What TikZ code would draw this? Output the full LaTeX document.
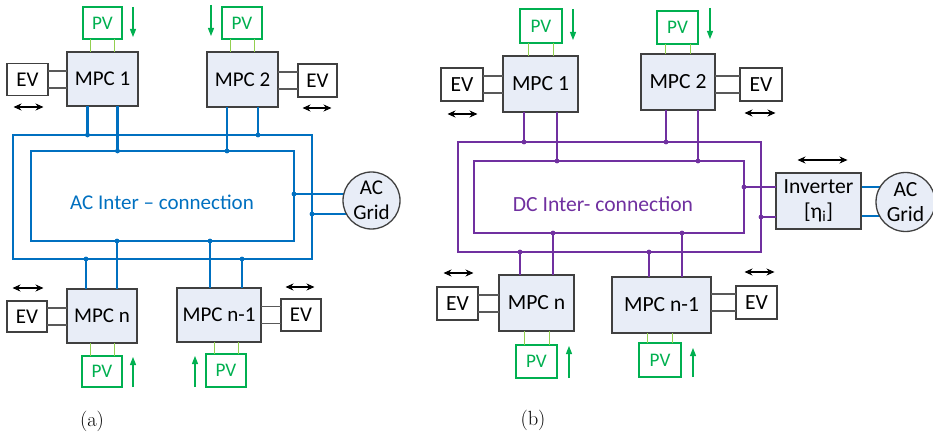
\documentclass[tikz,border=0pt]{standalone}
\usepackage{fontspec}
\newfontfamily\calfont{Carlito}
\usetikzlibrary{arrows.meta,backgrounds}
\definecolor{acblue}{HTML}{0070C0}
\definecolor{dcpurple}{HTML}{7030A0}
\definecolor{pvgreen}{HTML}{00B050}
\definecolor{pvline}{HTML}{92D050}
\definecolor{boxgray}{HTML}{404040}
\definecolor{evline}{HTML}{595959}
\definecolor{mpcfill}{RGB}{232,237,247}
\begin{document}
\begin{tikzpicture}[x=1pt,y=-1pt,
  txt/.style={font=\calfont\fontsize{21}{24.5}\selectfont},
  txtb/.style={font=\calfont\fontsize{21.6}{25}\selectfont},
  mpc/.style={txt,draw=boxgray,line width=1.3pt,fill=mpcfill,inner sep=0pt,outer sep=0pt},
  evbox/.style={txt,draw=boxgray,line width=1.3pt,fill=white,inner sep=0pt,outer sep=0pt,minimum width=41pt,minimum height=32pt},
  pvbox/.style={font=\calfont\fontsize{19.2}{22}\selectfont,text=pvgreen,draw=pvgreen,line width=1.1pt,fill=white,inner sep=0pt,outer sep=0pt,minimum width=40pt,minimum height=32pt},
  ring/.style={draw,inner sep=0pt,outer sep=0pt,line width=2.2pt},
  busA/.style={draw=acblue,line width=2.2pt},
  busB/.style={draw=dcpurple,line width=2.2pt},
  pvwire/.style={draw=pvline,line width=1pt},
  evwire/.style={draw=evline,line width=1.1pt},
  flow/.style={draw=pvgreen,line width=1.1pt,-{Triangle[length=8pt,width=6pt]}},
  both/.style={draw=black,line width=1.1pt,{Stealth[length=8pt,width=7pt]}-{Stealth[length=8pt,width=7pt]}},
  gridc/.style={txt,circle,draw=boxgray,line width=1.3pt,fill=mpcfill,inner sep=0pt,outer sep=0pt,minimum size=57pt,align=center}
]
\useasboundingbox (0,0) rectangle (933,438);

% ================= (a) =================
\node[ring,draw=acblue,minimum width=299pt,minimum height=124pt] (outerA) at (162.5,197) {};
\node[ring,draw=acblue,minimum width=263pt,minimum height=90pt] (innerA) at (162.5,196) {};
\node[txt,text=acblue] (txtA) at (162,202) {AC Inter – connection};

\node[mpc,minimum width=71pt,minimum height=54pt] (mpcA1) at (102.5,79) {MPC 1};
\node[mpc,minimum width=71pt,minimum height=55pt] (mpcA2) at (242.5,79.5) {MPC 2};
\node[mpc,minimum width=70pt,minimum height=54pt] (mpcAn) at (102,316) {MPC n};
\node[mpc,minimum width=84pt,minimum height=54pt] (mpcAm) at (219,315) {MPC n-1};

\node[evbox] (evA1) at (27.5,79.5) {EV};
\node[evbox,minimum width=39pt,minimum height=33pt] (evA2) at (317.5,80.5) {EV};
\node[evbox,minimum width=40pt,minimum height=31pt] (evAn) at (27,316.5) {EV};
\node[evbox,minimum width=40pt] (evAm) at (301,315) {EV};

\node[pvbox,minimum width=39pt] (pvA1) at (102.5,23) {PV};
\node[pvbox] (pvA2) at (242,23) {PV};
\node[pvbox,minimum height=31pt] (pvAn) at (102,371.5) {PV};
\node[pvbox,minimum height=33pt] (pvAm) at (226,370.5) {PV};

\node[gridc] (gridA) at (371.5,200.5) {AC\\Grid};

% bus lines (a)
\draw[busA] ([xshift=-15pt]mpcA1.south) -- ([xshift=-15pt]mpcA1.south |- outerA.north) coordinate (jA1);
\draw[busA] ([xshift=15pt]mpcA1.south) -- ([xshift=15pt]mpcA1.south |- innerA.north) coordinate (jA2);
\draw[busA] ([xshift=-15.5pt]mpcA2.south) -- ([xshift=-15.5pt]mpcA2.south |- innerA.north) coordinate (jA3);
\draw[busA] ([xshift=15.5pt]mpcA2.south) -- ([xshift=15.5pt]mpcA2.south |- outerA.north) coordinate (jA4);
\draw[busA] ([xshift=-16pt]mpcAn.north) -- ([xshift=-16pt]mpcAn.north |- outerA.south) coordinate (jA5);
\draw[busA] ([xshift=15pt]mpcAn.north) -- ([xshift=15pt]mpcAn.north |- innerA.south) coordinate (jA6);
\draw[busA] ([xshift=-9pt]mpcAm.north) -- ([xshift=-9pt]mpcAm.north |- innerA.south) coordinate (jA7);
\draw[busA] ([xshift=23pt]mpcAm.north) -- ([xshift=23pt]mpcAm.north |- outerA.south) coordinate (jA8);
\begin{scope}[on background layer]
\draw[busA] ([yshift=2pt]innerA.east) coordinate (jA9) -- ([yshift=2pt]innerA.east -| gridA.center);
\draw[busA] ([yshift=-17pt]outerA.east) coordinate (jA10) -- ([yshift=-17pt]outerA.east -| gridA.center);
\end{scope}
\foreach \j in {jA1,jA2,jA3,jA4,jA5,jA6,jA7,jA8,jA9,jA10} \fill[acblue] (\j) circle (2.4pt);

% EV wires (a)
\foreach \s in {8.5,-8.5} {
  \draw[evwire] ([yshift=\s pt]evA1.east) -- ([yshift=\s pt]evA1.east -| mpcA1.west);
  \draw[evwire] ([yshift=\s pt]evA2.west) -- ([yshift=\s pt]evA2.west -| mpcA2.east);
  \draw[evwire] ([yshift=\s pt]evAn.east) -- ([yshift=\s pt]evAn.east -| mpcAn.west);
  \draw[evwire] ([yshift=\s pt]evAm.west) -- ([yshift=\s pt]evAm.west -| mpcAm.east);
}
% PV wires (a)
\foreach \s in {12,-12} {
  \draw[pvwire] ([xshift=\s pt]pvA1.south) -- ([xshift=\s pt]pvA1.south |- mpcA1.north);
  \draw[pvwire] ([xshift=\s pt]pvA2.south) -- ([xshift=\s pt]pvA2.south |- mpcA2.north);
  \draw[pvwire] ([xshift=\s pt]pvAn.north) -- ([xshift=\s pt]pvAn.north |- mpcAn.south);
  \draw[pvwire] ([xshift=\s pt]pvAm.north) -- ([xshift=\s pt]pvAm.north |- mpcAm.south);
}
% arrows (a)
\draw[flow] (133,7) -- (133,37);
\draw[flow] (211,5) -- (211,36);
\draw[flow] (133,387) -- (133,357);
\draw[flow] (195,387) -- (195,356);
\draw[both] (13.5,107) -- (43.5,107);
\draw[both] (302.5,108) -- (331.5,108);
\draw[both] (12.5,288) -- (43.5,288);
\draw[both] (285.5,287) -- (314.5,287);

\node[font=\fontsize{20.5}{24}\selectfont] (labA) at (92,421) {(a)};

% ================= (b) =================
\node[ring,draw=dcpurple,minimum width=303pt,minimum height=110pt] (outerB) at (609.5,197) {};
\node[ring,draw=dcpurple,minimum width=270pt,minimum height=72pt] (innerB) at (609,197) {};
\node[txtb,text=dcpurple] (txtB) at (603,204) {DC Inter- connection};

\node[mpc,txtb,minimum width=75pt,minimum height=56pt] (mpcB1) at (540.5,84) {MPC 1};
\node[mpc,txtb,minimum width=74pt,minimum height=56pt] (mpcB2) at (678,82) {MPC 2};
\node[mpc,txtb,minimum width=75pt,minimum height=56pt] (mpcBn) at (536.5,303) {MPC n};
\node[mpc,txtb,minimum width=99pt,minimum height=56pt] (mpcBm) at (661.5,305) {MPC n-1};

\node[evbox,txtb,minimum width=42pt,minimum height=33pt] (evB1) at (462,84.5) {EV};
\node[evbox,txtb,minimum width=42pt,minimum height=33pt] (evB2) at (761,84.5) {EV};
\node[evbox,txtb,minimum height=33pt] (evBn) at (457.5,303.5) {EV};
\node[evbox,txtb,minimum height=33pt] (evBm) at (756.5,302.5) {EV};

\node[pvbox,minimum width=42pt,minimum height=34pt] (pvB1) at (541,26) {PV};
\node[pvbox,minimum width=41pt,minimum height=33pt] (pvB2) at (677.5,27.5) {PV};
\node[pvbox,minimum width=41pt,minimum height=33pt] (pvBn) at (536.5,361.5) {PV};
\node[pvbox,minimum width=42pt,minimum height=34pt] (pvBm) at (660,360) {PV};

\node[mpc,txtb,minimum width=85pt,minimum height=56pt,align=center] (inv) at (818.5,201) {Inverter\\{[}η\textsubscript{i}]};
\node[gridc,txtb,minimum size=59pt] (gridB) at (905.5,202) {AC\\Grid};

% bus lines (b)
\draw[busB] ([xshift=-16.5pt]mpcB1.south) -- ([xshift=-16.5pt]mpcB1.south |- outerB.north) coordinate (jB1);
\draw[busB] ([xshift=16.5pt]mpcB1.south) -- ([xshift=16.5pt]mpcB1.south |- innerB.north) coordinate (jB2);
\draw[busB] ([xshift=-12pt]mpcB2.south) -- ([xshift=-12pt]mpcB2.south |- outerB.north) coordinate (jB3);
\draw[busB] ([xshift=20pt]mpcB2.south) -- ([xshift=20pt]mpcB2.south |- innerB.north) coordinate (jB4);
\draw[busB] ([xshift=-16.5pt]mpcBn.north) -- ([xshift=-16.5pt]mpcBn.north |- outerB.south) coordinate (jB5);
\draw[busB] ([xshift=16.5pt]mpcBn.north) -- ([xshift=16.5pt]mpcBn.north |- innerB.south) coordinate (jB6);
\draw[busB] ([xshift=-12.5pt]mpcBm.north) -- ([xshift=-12.5pt]mpcBm.north |- outerB.south) coordinate (jB7);
\draw[busB] ([xshift=20.5pt]mpcBm.north) -- ([xshift=20.5pt]mpcBm.north |- innerB.south) coordinate (jB8);
\draw[busB] ([yshift=10pt]innerB.east) coordinate (jB9) -- ([yshift=10pt]innerB.east -| inv.west);
\draw[busB] ([yshift=-20pt]outerB.east) coordinate (jB10) -- ([yshift=-20pt]outerB.east -| inv.west);
\begin{scope}[on background layer]
\draw[busA] ([yshift=14pt]inv.east) -- ([yshift=14pt]inv.east -| gridB.center);
\draw[busA] ([yshift=-15pt]inv.east) -- ([yshift=-15pt]inv.east -| gridB.center);
\end{scope}
\foreach \j in {jB1,jB2,jB3,jB4,jB5,jB6,jB7,jB8,jB9,jB10} \fill[dcpurple] (\j) circle (2.4pt);

% EV wires (b)
\foreach \s in {8.5,-8.5} {
  \draw[evwire] ([yshift=\s pt]evB1.east) -- ([yshift=\s pt]evB1.east -| mpcB1.west);
  \draw[evwire] ([yshift=\s pt]evB2.west) -- ([yshift=\s pt]evB2.west -| mpcB2.east);
  \draw[evwire] ([yshift=\s pt]evBn.east) -- ([yshift=\s pt]evBn.east -| mpcBn.west);
  \draw[evwire] ([yshift=\s pt]evBm.west) -- ([yshift=\s pt]evBm.west -| mpcBm.east);
}
% PV wires (b)
\foreach \s in {12.5,-12.5} {
  \draw[pvwire] ([xshift=\s pt]pvB1.south) -- ([xshift=\s pt]pvB1.south |- mpcB1.north);
  \draw[pvwire] ([xshift=\s pt]pvB2.south) -- ([xshift=\s pt]pvB2.south |- mpcB2.north);
  \draw[pvwire] ([xshift=\s pt]pvBn.north) -- ([xshift=\s pt]pvBn.north |- mpcBn.south);
  \draw[pvwire] ([xshift=\s pt]pvBm.north) -- ([xshift=\s pt]pvBm.north |- mpcBm.south);
}
% arrows (b)
\draw[flow] (573,9) -- (573,40);
\draw[flow] (710,8) -- (710,39);
\draw[flow] (569,378) -- (569,346);
\draw[flow] (693,377) -- (693,348);
\draw[both] (447.5,114) -- (477.5,114);
\draw[both] (744.5,113) -- (775.5,113);
\draw[both] (443.5,273) -- (473.5,273);
\draw[both] (744.5,272) -- (774.5,272);
\draw[both] (797.5,160) -- (847.5,160);

\node[font=\fontsize{20.5}{24}\selectfont] (labB) at (533,420) {(b)};
\end{tikzpicture}
\end{document}
